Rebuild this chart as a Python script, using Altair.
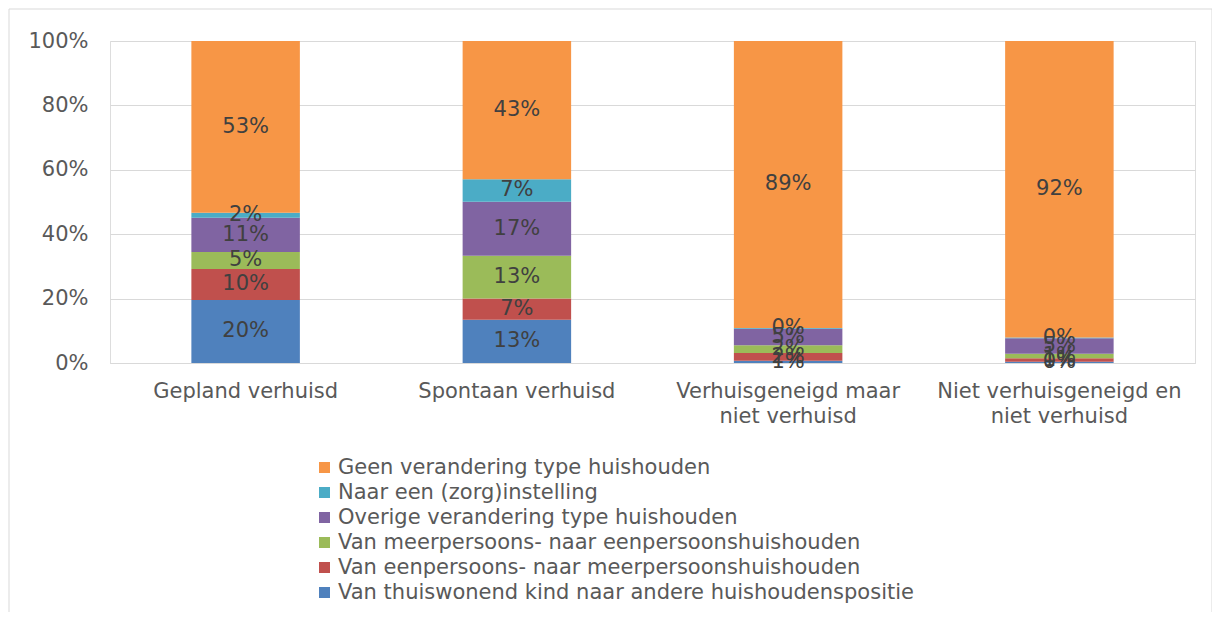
import altair as alt
import pandas as pd

categories = ["Gepland verhuisd", "Spontaan verhuisd",
              "Verhuisgeneigd maar|niet verhuisd", "Niet verhuisgeneigd en|niet verhuisd"]
series = ["Van thuiswonend kind naar andere huishoudenspositie",
          "Van eenpersoons- naar meerpersoonshuishouden",
          "Van meerpersoons- naar eenpersoonshuishouden",
          "Overige verandering type huishouden",
          "Naar een (zorg)instelling",
          "Geen verandering type huishouden"]
colors = ["#4F81BD", "#C0504D", "#9BBB59", "#8064A2", "#4BACC6", "#F79646"]

v_thuis = [19.6, 13.4, 0.7, 0.4]
v_een_meer = [9.6, 6.6, 2.4, 1.1]
v_meer_een = [5.3, 13.3, 2.4, 1.4]
v_overig = [10.6, 16.8, 5.1, 4.8]
v_zorg = [1.6, 7.0, 0.3, 0.2]
v_geen = [53.3, 42.9, 89.1, 92.1]
all_values = [v_thuis, v_een_meer, v_meer_een, v_overig, v_zorg, v_geen]

rows = []
for si, (s, vals) in enumerate(zip(series, all_values)):
    for c, v in zip(categories, vals):
        rows.append({"cat": c, "series": s, "order": si, "value": v})
df = pd.DataFrame(rows)

FONT = "DejaVu Sans"
FS = 21

base = alt.Chart(df).transform_stack(
    stack="value", groupby=["cat"], sort=[alt.SortField("order", order="ascending")],
    as_=["y0", "y1"], offset="normalize"
).transform_calculate(
    mid="(datum.y0 + datum.y1) / 2",
    lbl="format(datum.value, '.0f') + '%'"
)

x_enc = alt.X("cat:N", sort=categories,
              scale=alt.Scale(paddingInner=0, paddingOuter=0),
              axis=alt.Axis(title=None, labelAngle=0, labelExpr="split(datum.label, '|')",
                            labelFontSize=FS, labelColor="#595959", labelPadding=17,
                            labelLineHeight=25, ticks=False, domainColor="#d9d9d9",
                            labelFont=FONT, labelLimit=1000))

bars = base.mark_bar(width=alt.RelativeBandSize(0.4)).encode(
    x=x_enc,
    y=alt.Y("y0:Q", scale=alt.Scale(domain=[0, 1]),
            axis=alt.Axis(title=None, values=[0, 0.2, 0.4, 0.6, 0.8, 1.0], format=".0%",
                          labelFontSize=FS, labelColor="#595959", labelPadding=22,
                          ticks=False, domain=False, gridColor="#d9d9d9", labelFont=FONT)),
    y2="y1:Q",
    color=alt.Color("series:N",
                    scale=alt.Scale(domain=series[::-1], range=colors[::-1]),
                    legend=alt.Legend(title=None, orient="none", legendX=204, legendY=416,
                                      labelFontSize=FS, labelColor="#595959", labelFont=FONT,
                                      symbolType="square", symbolSize=121, symbolStrokeWidth=0,
                                      rowPadding=3, labelLimit=1000, labelOffset=3)),
)

labels = base.mark_text(fontSize=FS, color="#404040", font=FONT).encode(
    x=alt.X("cat:N", sort=categories),
    y="mid:Q",
    text="lbl:N",
)

border = alt.Chart(pd.DataFrame({"a": [0]})).mark_rect(
    fillOpacity=0, stroke="#d9d9d9", strokeWidth=1
).encode(
    x=alt.value(-101), x2=alt.value(1102), y=alt.value(-32), y2=alt.value(573)
)

chart = alt.layer(border, bars, labels).properties(
    width=1085, height=322,
    autosize="none",
    padding={"left": 102, "top": 33, "right": 17, "bottom": 249},
).configure_view(stroke=None).configure(font=FONT)

chart.save("out.html", embed_options={"renderer": "svg", "actions": False})
